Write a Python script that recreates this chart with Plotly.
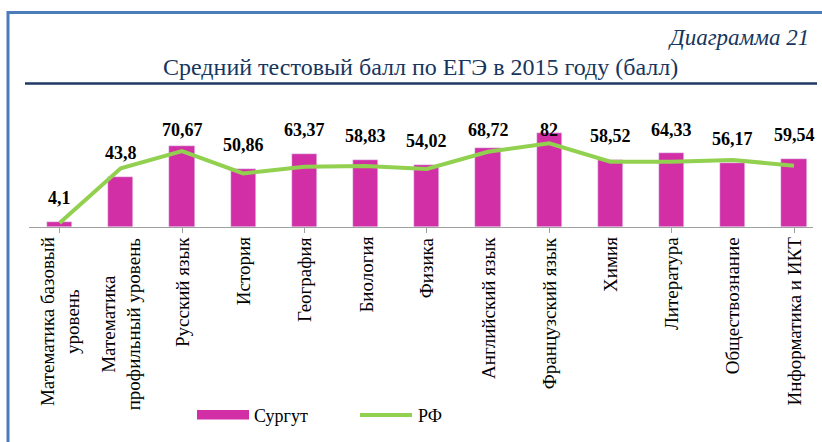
import plotly.graph_objects as go

categories = ["Математика базовый<br>уровень", "Математика<br>профильный уровень", "Русский язык",
              "История", "География", "Биология", "Физика", "Английский язык",
              "Французский язык", "Химия", "Литература", "Обществознание", "Информатика и ИКТ"]
surgut = [4.1, 43.8, 70.67, 50.86, 63.37, 58.83, 54.02, 68.72, 82, 58.52, 64.33, 56.17, 59.54]
rf = [3.5, 51.2, 66.3, 46.8, 52.6, 53.2, 50.6, 65.7, 73.0, 57.0, 57.0, 58.5, 53.5]
series_names = ["Сургут", "РФ"]
title_text = "Средний тестовый балл по ЕГЭ в 2015 году (балл)"
diagram_text = "Диаграмма 21"

W, H = 822, 442
SERIF = "Liberation Serif, Times New Roman, serif"
BAR_COLOR = "#D22FA7"
LINE_COLOR = "#92D050"
NAVY = "#17365D"

# layout geometry (pixels)
px_left, px_right = 29, 813
px_top, px_bottom = 121, 227
cat_step = 61.2
ymax = (px_bottom - px_top) / 1.146
xmax = -0.5 + (px_right - px_left) / cat_step

def fx(px):
    return px / W

def fy(py):
    return 1 - py / H

xs = list(range(len(categories)))

fig = go.Figure()
fig.add_trace(go.Bar(x=xs, y=surgut, name=series_names[0], marker_color=BAR_COLOR,
                     width=0.41, showlegend=False))
fig.add_trace(go.Scatter(x=xs, y=rf, name=series_names[1], mode="lines",
                         line=dict(color=LINE_COLOR, width=4), showlegend=False))

annotations = []
# value labels
ppu = (px_bottom - px_top) / ymax
label_shift = 12
box_h = 24
for x, v in zip(xs, surgut):
    txt = ("%g" % v).replace(".", ",")
    if v * ppu + label_shift + box_h > (px_bottom - px_top):
        annotations.append(dict(x=x, y=ymax, xref="x", yref="y", text="<b>%s</b>" % txt,
                                showarrow=False, yanchor="top", yshift=3,
                                font=dict(family=SERIF, size=18, color="black")))
    else:
        annotations.append(dict(x=x, y=v, xref="x", yref="y", text="<b>%s</b>" % txt,
                                showarrow=False, yanchor="bottom", yshift=label_shift,
                                font=dict(family=SERIF, size=18, color="black")))
# category labels
for x, c in zip(xs, categories):
    annotations.append(dict(x=x, y=fy(235), xref="x", yref="paper", text=c, textangle=-90,
                            showarrow=False, yanchor="top", xanchor="center", align="center",
                            font=dict(family=SERIF, size=19, color="black")))
# titles
annotations.append(dict(x=fx(420), y=fy(67), xref="paper", yref="paper", text=title_text,
                        showarrow=False, xanchor="center", yanchor="middle",
                        font=dict(family=SERIF, size=24, color=NAVY)))
annotations.append(dict(x=fx(811), y=fy(37), xref="paper", yref="paper",
                        text="<i>%s</i>" % diagram_text,
                        showarrow=False, xanchor="right", yanchor="middle",
                        font=dict(family=SERIF, size=23, color=NAVY)))
# custom legend
annotations.append(dict(x=fx(252), y=fy(416), xref="paper", yref="paper", text=series_names[0],
                        showarrow=False, xanchor="left", yanchor="middle",
                        font=dict(family=SERIF, size=18, color="black")))
annotations.append(dict(x=fx(416), y=fy(416), xref="paper", yref="paper", text=series_names[1],
                        showarrow=False, xanchor="left", yanchor="middle",
                        font=dict(family=SERIF, size=18, color="black")))

shapes = [
    dict(type="rect", xref="paper", yref="paper", x0=fx(8), x1=1.05, y0=-0.05, y1=fy(12.5),
         line=dict(color="#4A7DBA", width=3), fillcolor="rgba(0,0,0,0)", layer="below"),
    dict(type="line", xref="paper", yref="paper", x0=fx(25), x1=fx(817), y0=fy(83.5), y1=fy(83.5),
         line=dict(color="#1F3864", width=2.5)),
    dict(type="rect", xref="paper", yref="paper", x0=fx(197), x1=fx(249), y0=fy(419.5), y1=fy(410),
         line=dict(width=0), fillcolor=BAR_COLOR),
    dict(type="line", xref="paper", yref="paper", x0=fx(360), x1=fx(412), y0=fy(415), y1=fy(415),
         line=dict(color=LINE_COLOR, width=4)),
]

fig.update_layout(
    width=W, height=H,
    margin=dict(l=0, r=0, t=0, b=0),
    paper_bgcolor="white", plot_bgcolor="white",
    showlegend=False,
    annotations=annotations,
    shapes=shapes,
    bargap=0,
    xaxis=dict(domain=[fx(px_left), fx(px_right)], range=[-0.5, xmax], showticklabels=False,
               showline=True, linecolor="#A0A0A0", linewidth=1, ticks="outside",
               tickson="boundaries", ticklen=5, tickcolor="#A0A0A0", showgrid=False,
               zeroline=False, fixedrange=True),
    yaxis=dict(domain=[fy(px_bottom), fy(px_top)], range=[0, ymax], visible=False,
               showgrid=False, zeroline=False, fixedrange=True),
)

fig.write_html("out.html", config={"displayModeBar": False})
